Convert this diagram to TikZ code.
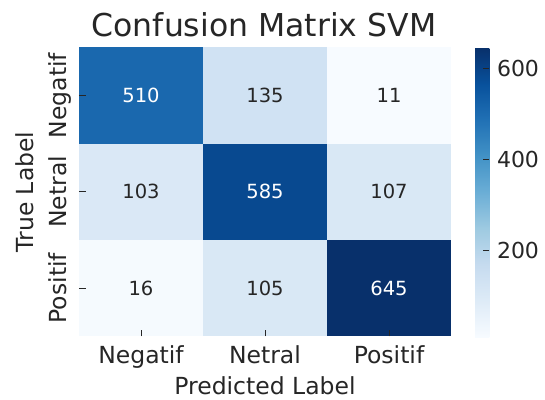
\documentclass[tikz,border=0pt]{standalone}
\usepackage{fontspec}
\setmainfont{DejaVu Sans}
% Blues colour ramp (9 stops)
\definecolor{b0}{HTML}{F7FBFF}
\definecolor{b1}{HTML}{DEEBF7}
\definecolor{b2}{HTML}{C6DBEF}
\definecolor{b3}{HTML}{9ECAE1}
\definecolor{b4}{HTML}{6BAED6}
\definecolor{b5}{HTML}{4292C6}
\definecolor{b6}{HTML}{2171B5}
\definecolor{b7}{HTML}{08519C}
\definecolor{b8}{HTML}{08306B}
% cell colours
\definecolor{vA}{HTML}{1A68AE}
\definecolor{vB}{HTML}{D0E2F3}
\definecolor{vC}{HTML}{F7FBFF}
\definecolor{vD}{HTML}{DAE8F6}
\definecolor{vE}{HTML}{084990}
\definecolor{vF}{HTML}{D9E8F5}
\definecolor{vG}{HTML}{F5FAFE}
\definecolor{vH}{HTML}{D9E8F5}
\definecolor{vI}{HTML}{08306B}
\definecolor{ink}{HTML}{262626}
% colour bar: the central 50bp band spans the ramp
\pgfdeclareverticalshading{blues}{100bp}{%
  color(0bp)=(b0); color(25bp)=(b0); color(31.25bp)=(b1); color(37.5bp)=(b2);
  color(43.75bp)=(b3); color(50bp)=(b4); color(56.25bp)=(b5); color(62.5bp)=(b6);
  color(68.75bp)=(b7); color(75bp)=(b8); color(100bp)=(b8)}
\begin{document}
\begin{tikzpicture}[x=1pt,y=-1pt,
  every node/.style={inner sep=0pt,outer sep=0pt,text=ink},
  cell/.style={minimum width=124.4pt,minimum height=96.6pt,
    font=\fontsize{19.5}{23}\selectfont},
  ticklab/.style={font=\fontsize{23.5}{28}\selectfont},
  cbarlab/.style={font=\fontsize{22}{26}\selectfont,anchor=west},
  tickmark/.style={draw=ink,line width=1pt}]
\useasboundingbox (0,0) rectangle (545,399);

% title
\node[anchor=base,font=\fontsize{31.5}{38}\selectfont] (title) at (264,36.5) {Confusion Matrix SVM};

% heatmap cells with counts
\foreach \r/\c/\col/\val/\tc in {
  0/0/vA/510/white, 0/1/vB/135/ink, 0/2/vC/11/ink,
  1/0/vD/103/ink, 1/1/vE/585/white, 1/2/vF/107/ink,
  2/0/vG/16/ink, 2/1/vH/105/ink, 2/2/vI/645/white}{
  \node[cell,fill=\col,text=\tc] (c\r\c) at ({141+124*\c},{95.5+96.3*\r}) {\val};
}

% tick marks (pointing inwards)
\foreach \c in {0,1,2}{
  \draw[tickmark] (c2\c.south) -- ++(0,-6.5);
  \draw[tickmark] (c\c0.west) -- ++(6.8,0);
}

% x tick labels and axis label
\node[ticklab,anchor=base] (xl0) at (141,363) {Negatif};
\node[ticklab,anchor=base] (xl1) at (265,363) {Netral};
\node[ticklab,anchor=base] (xl2) at (389,363) {Positif};
\node[ticklab,anchor=base] (xlabel) at (265,394) {Predicted Label};

% y tick labels and axis label
\node[ticklab,rotate=90,anchor=base] (yl0) at (66,95.5) {Negatif};
\node[ticklab,rotate=90,anchor=base] (yl1) at (66,191.8) {Netral};
\node[ticklab,rotate=90,anchor=base] (yl2) at (66,288.1) {Positif};
\node[ticklab,rotate=90,anchor=base] (ylabel) at (33.3,192) {True Label};

% colour bar
\node[shading=blues,minimum width=14.3pt,minimum height=289pt] (cbar) at (482.2,192.5) {};
\foreach \v/\y in {600/68.5,400/159.7,200/250.8}{
  \coordinate (t\v) at (489.3,\y);
  \draw[tickmark] (t\v) -- ++(-6.8,0);
  \node[cbarlab] (l\v) at (497,\y) {\v};
}
\end{tikzpicture}
\end{document}
